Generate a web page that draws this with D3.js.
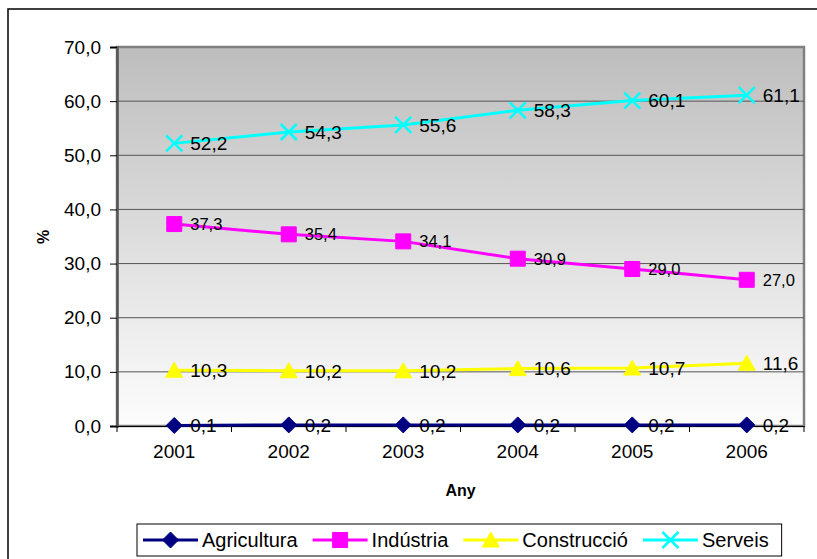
<!DOCTYPE html>
<html>
<head>
<meta charset="utf-8">
<script src="https://cdn.jsdelivr.net/npm/d3@7"></script>
<style>
  body { margin: 0; background: #fff; }
  svg { display: block; font-family: Arial, "Liberation Sans", sans-serif; }
</style>
</head>
<body>
<svg width="817" height="559"></svg>
<script>
var width = 817;
var height = 559;

// Data
var years = ['2001', '2002', '2003', '2004', '2005', '2006'];
var agricultura = [0.1, 0.2, 0.2, 0.2, 0.2, 0.2];
var industria = [37.3, 35.4, 34.1, 30.9, 29.0, 27.0];
var construccio = [10.3, 10.2, 10.2, 10.6, 10.7, 11.6];
var serveis = [52.2, 54.3, 55.6, 58.3, 60.1, 61.1];
var yTicks = [0, 10, 20, 30, 40, 50, 60, 70];

var series = [
    {name: 'Agricultura', values: agricultura, color: '#000080', marker: 'diamond', labelSize: 19},
    {name: 'Indústria', values: industria, color: '#ff00ff', marker: 'square', labelSize: 16.5},
    {name: 'Construcció', values: construccio, color: '#ffff00', marker: 'triangle', labelSize: 19},
    {name: 'Serveis', values: serveis, color: '#00ffff', marker: 'cross', labelSize: 19}
];

var plot = {left: 117, right: 804, top: 47, bottom: 426};
var fmt = v => d3.format('.1f')(v).replace('.', ',');

var svg = d3.select('svg');

// outer chart border (cut off at right/bottom)
svg.append('rect')
    .attr('x', 8).attr('y', 9)
    .attr('width', 900).attr('height', 700)
    .attr('fill', 'none')
    .attr('stroke', '#000')
    .attr('stroke-width', 1.5);

var x = d3.scaleBand().domain(years).range([plot.left, plot.right]);
var y = d3.scaleLinear().domain([0, 70]).range([plot.bottom, plot.top]);

// plot area gradient
var grad = svg.append('defs').append('linearGradient')
    .attr('id', 'bg').attr('x1', 0).attr('y1', 0).attr('x2', 0).attr('y2', 1);
grad.append('stop').attr('offset', '0%').attr('stop-color', '#bdbdbd');
grad.append('stop').attr('offset', '100%').attr('stop-color', '#fdfdfd');

svg.append('rect')
    .attr('x', plot.left).attr('y', plot.top)
    .attr('width', plot.right - plot.left).attr('height', plot.bottom - plot.top)
    .attr('fill', 'url(#bg)')
    .attr('stroke', '#808080')
    .attr('stroke-width', 2.5);

// gridlines
svg.append('g')
    .selectAll('line')
    .data(yTicks.slice(1, -1))
    .enter()
    .append('line')
        .attr('x1', plot.left).attr('x2', plot.right)
        .attr('y1', d => y(d)).attr('y2', d => y(d))
        .attr('stroke', '#555')
        .attr('stroke-width', 1);

// y axis
var yAxis = svg.append('g')
    .attr('transform', `translate(${plot.left},0)`)
    .call(d3.axisLeft(y).tickValues(yTicks).tickFormat(fmt).tickSize(7).tickPadding(9));
yAxis.select('.domain').attr('stroke', '#555').attr('stroke-width', 2.5);
yAxis.selectAll('.tick line').attr('stroke', '#000');
yAxis.selectAll('text')
    .attr('font-family', 'Arial, "Liberation Sans", sans-serif')
    .attr('font-size', 19)
    .attr('fill', '#000');

// x axis
var xAxis = svg.append('g')
    .attr('transform', `translate(0,${plot.bottom})`)
    .call(d3.axisBottom(x).tickSize(0).tickPadding(19));
xAxis.select('.domain').attr('stroke', '#000').attr('stroke-width', 1.2);
xAxis.selectAll('text')
    .attr('font-family', 'Arial, "Liberation Sans", sans-serif')
    .attr('font-size', 19)
    .attr('fill', '#000');
xAxis.append('g')
    .selectAll('line')
    .data(years.map(d => x(d)).concat([plot.right]))
    .enter()
    .append('line')
        .attr('x1', d => d).attr('x2', d => d)
        .attr('y1', 0).attr('y2', 6)
        .attr('stroke', '#000');

// axis titles
svg.append('text')
    .attr('x', (plot.left + plot.right) / 2)
    .attr('y', 496)
    .attr('text-anchor', 'middle')
    .attr('font-size', 16)
    .attr('font-weight', 'bold')
    .text('Any');

svg.append('text')
    .attr('transform', 'translate(49,237) rotate(-90)')
    .attr('text-anchor', 'middle')
    .attr('font-size', 16)
    .attr('font-weight', 'bold')
    .text('%');

function markerPath(type) {
    if (type === 'diamond') return 'M0,-8L8,0L0,8L-8,0Z';
    if (type === 'square') return 'M-7.5,-7.5H7.5V7.5H-7.5Z';
    if (type === 'triangle') return 'M0,-8L8.5,7L-8.5,7Z';
    return 'M-8,-8L8,8M-8,8L8,-8';
}

function drawMarker(sel, s) {
    sel.append('path')
        .attr('d', markerPath(s.marker))
        .attr('fill', s.marker === 'cross' ? 'none' : s.color)
        .attr('stroke', s.color)
        .attr('stroke-width', s.marker === 'cross' ? 2.5 : 1);
}

var line = d3.line()
    .x((d, i) => x(years[i]) + x.bandwidth() / 2)
    .y(d => y(d));

series.forEach(s => {
    var g = svg.append('g');
    g.append('path')
        .attr('d', line(s.values))
        .attr('fill', 'none')
        .attr('stroke', s.color)
        .attr('stroke-width', 3);

    g.selectAll('.pt')
        .data(s.values)
        .enter()
        .append('g')
            .classed('pt', true)
            .attr('transform', (d, i) => `translate(${x(years[i]) + x.bandwidth() / 2},${y(d)})`)
            .each(function() { drawMarker(d3.select(this), s); });

    g.selectAll('.lbl')
        .data(s.values)
        .enter()
        .append('text')
            .classed('lbl', true)
            .attr('x', (d, i) => x(years[i]) + x.bandwidth() / 2 + 16)
            .attr('y', d => y(d))
            .attr('dy', '0.36em')
            .attr('font-size', s.labelSize)
            .attr('fill', '#000')
            .text(fmt);
});

// legend
var legend = svg.append('g');
var legendBox = legend.append('rect')
    .attr('fill', '#fff')
    .attr('stroke', '#000')
    .attr('stroke-width', 1);

var lx = 143;
var ly = 540;
series.forEach(s => {
    var item = legend.append('g').attr('transform', `translate(${lx},${ly})`);
    item.append('line')
        .attr('x1', 0).attr('x2', 55)
        .attr('stroke', s.color)
        .attr('stroke-width', 3);
    drawMarker(item.append('g').attr('transform', 'translate(27.5,0)'), s);
    var t = item.append('text')
        .attr('x', 59)
        .attr('dy', '0.36em')
        .attr('font-size', 20)
        .text(s.name);
    lx += 59 + t.node().getComputedTextLength() + 15;
});
legendBox
    .attr('x', 137).attr('y', 524)
    .attr('width', lx - 15 + 13 - 137).attr('height', 32);
</script>
</body>
</html>
